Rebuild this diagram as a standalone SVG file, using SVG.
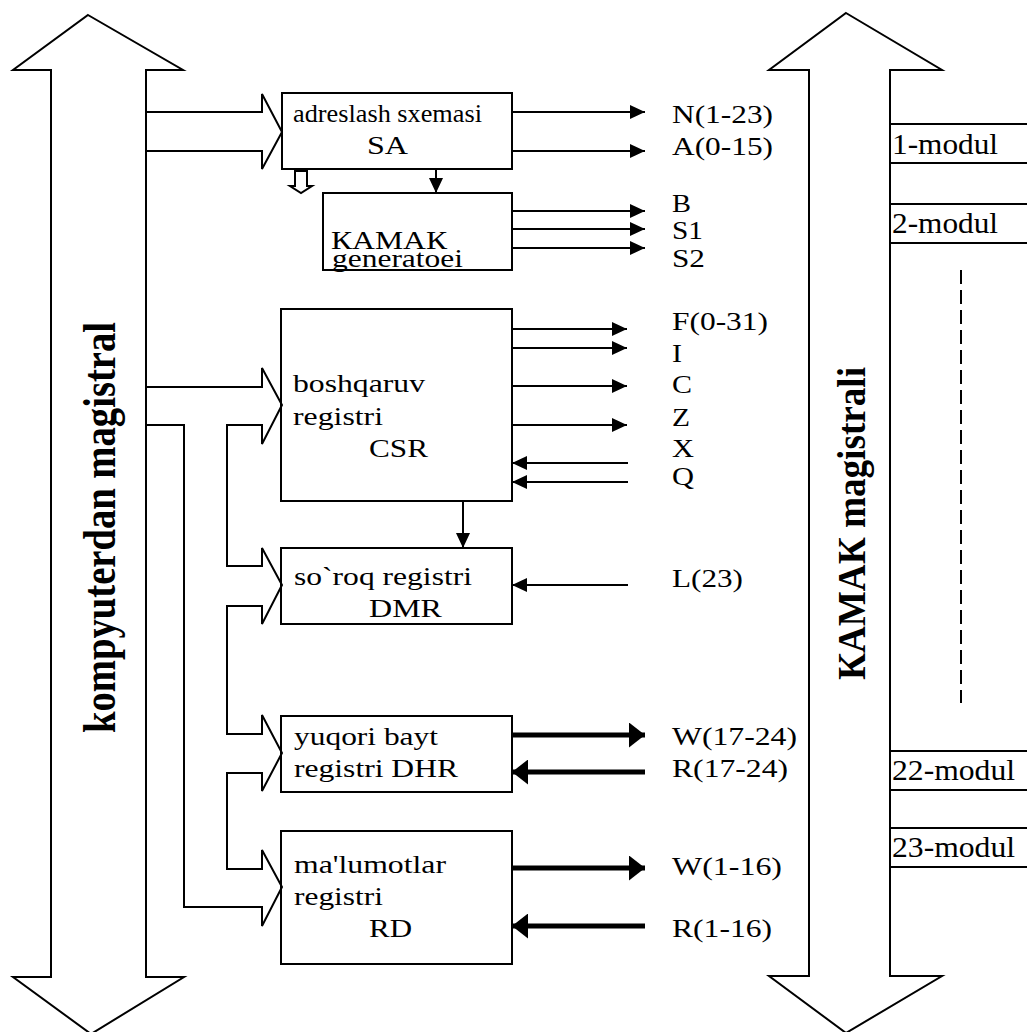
<svg xmlns="http://www.w3.org/2000/svg" width="1027" height="1032" viewBox="0 0 1027 1032">
<style>
.ln{fill:none;stroke:#000;stroke-width:2;stroke-linejoin:miter}
.bx{fill:#fff;stroke:#000;stroke-width:2}
.th{fill:none;stroke:#000;stroke-width:5}
.t{font-family:'Liberation Serif','Times New Roman',Times,serif;font-size:25.5px;fill:#000}
.b{font-family:'Liberation Serif','Times New Roman',Times,serif;font-size:26px;fill:#000}
.m{font-family:'Liberation Serif','Times New Roman',Times,serif;font-size:30px;fill:#000}
.bt{font-family:'Liberation Serif','Times New Roman',Times,serif;font-weight:bold;fill:#000;text-anchor:middle}
</style>
<defs>
<marker id="ah" markerUnits="userSpaceOnUse" markerWidth="15" markerHeight="14" refX="15" refY="7" orient="auto" viewBox="0 0 15 14"><path d="M0,0 L15,7 L0,14 z" fill="#000"/></marker>
<marker id="ahb" markerUnits="userSpaceOnUse" markerWidth="16" markerHeight="25" refX="16" refY="12.5" orient="auto" viewBox="0 0 16 25"><path d="M0,0 L16,12.5 L0,25 z" fill="#000"/></marker>
</defs>
<rect width="1027" height="1032" fill="#fff"/>

<g id="left-bus">
<polygon class="bx" points="88,15 183,70 146,70 146,977 184,977 91,1034 13,977 51,977 51,70 13,70"/>
<text class="bt" font-size="46" textLength="411" lengthAdjust="spacingAndGlyphs" transform="translate(115,527.5) rotate(-90)">kompyuterdan magistral</text>
</g>

<g id="right-bus">
<polygon class="bx" points="846,13 942,70 890,70 890,976 942,976 846,1033 769,976 809,976 809,70 769,70"/>
<text class="bt" font-size="40" textLength="313" lengthAdjust="spacingAndGlyphs" transform="translate(865,523.5) rotate(-90)">КАМАК magistrali</text>
</g>

<g id="modules">
<path class="ln" d="M890,124H1027M890,163H1027M890,204H1027M890,243H1027M890,751H1027M890,790H1027M890,828H1027M890,867H1027"/>
<path class="ln" d="M961,270V703" stroke-dasharray="14,6"/>
<text class="m" x="892" y="154" textLength="106" lengthAdjust="spacingAndGlyphs">1-modul</text>
<text class="m" x="892" y="233" textLength="106" lengthAdjust="spacingAndGlyphs">2-modul</text>
<text class="m" x="892" y="780" textLength="123" lengthAdjust="spacingAndGlyphs">22-modul</text>
<text class="m" x="892" y="857" textLength="123" lengthAdjust="spacingAndGlyphs">23-modul</text>
</g>

<g id="SA">
<rect class="bx" x="282" y="93" width="230" height="76"/>
<text class="b" x="293" y="122" textLength="189" lengthAdjust="spacingAndGlyphs">adreslash sxemasi</text>
<text class="b" x="367" y="154" textLength="41" lengthAdjust="spacingAndGlyphs">SA</text>
</g>

<g id="generator">
<rect class="bx" x="323" y="193" width="189" height="77"/>
<text class="b" x="331" y="249" textLength="116" lengthAdjust="spacingAndGlyphs">КАМАК</text>
<text class="b" x="332" y="267" textLength="131" lengthAdjust="spacingAndGlyphs">generatoei</text>
</g>

<g id="CSR">
<rect class="bx" x="281" y="309" width="231" height="192"/>
<text class="b" x="293" y="392" textLength="132" lengthAdjust="spacingAndGlyphs">boshqaruv</text>
<text class="b" x="293" y="425" textLength="90" lengthAdjust="spacingAndGlyphs">registri</text>
<text class="b" x="369" y="457" textLength="59" lengthAdjust="spacingAndGlyphs">CSR</text>
</g>

<g id="DMR">
<rect class="bx" x="281" y="548" width="231" height="76"/>
<text class="b" x="294" y="585" textLength="178" lengthAdjust="spacingAndGlyphs">so`roq registri</text>
<text class="b" x="369" y="617" textLength="73" lengthAdjust="spacingAndGlyphs">DMR</text>
</g>

<g id="DHR">
<rect class="bx" x="281" y="716" width="231" height="76"/>
<text class="b" x="294" y="745" textLength="144" lengthAdjust="spacingAndGlyphs">yuqori bayt</text>
<text class="b" x="294" y="777" textLength="164" lengthAdjust="spacingAndGlyphs">registri DHR</text>
</g>

<g id="RD">
<rect class="bx" x="281" y="831" width="231" height="133"/>
<text class="b" x="294" y="873" textLength="152" lengthAdjust="spacingAndGlyphs">ma'lumotlar</text>
<text class="b" x="294" y="905" textLength="89" lengthAdjust="spacingAndGlyphs">registri</text>
<text class="b" x="369" y="937" textLength="43" lengthAdjust="spacingAndGlyphs">RD</text>
</g>

<g id="signals">
<text class="t" x="672" y="123" textLength="101" lengthAdjust="spacingAndGlyphs">N(1-23)</text>
<text class="t" x="672" y="155" textLength="101" lengthAdjust="spacingAndGlyphs">A(0-15)</text>
<text class="t" x="672" y="212" textLength="19" lengthAdjust="spacingAndGlyphs">B</text>
<text class="t" x="672" y="239" textLength="31" lengthAdjust="spacingAndGlyphs">S1</text>
<text class="t" x="672" y="267" textLength="33" lengthAdjust="spacingAndGlyphs">S2</text>
<text class="t" x="672" y="330" textLength="96" lengthAdjust="spacingAndGlyphs">F(0-31)</text>
<text class="t" x="672" y="362" textLength="10" lengthAdjust="spacingAndGlyphs">I</text>
<text class="t" x="672" y="393" textLength="20" lengthAdjust="spacingAndGlyphs">C</text>
<text class="t" x="672" y="426" textLength="18" lengthAdjust="spacingAndGlyphs">Z</text>
<text class="t" x="672" y="457" textLength="22" lengthAdjust="spacingAndGlyphs">X</text>
<text class="t" x="672" y="485" textLength="22" lengthAdjust="spacingAndGlyphs">Q</text>
<text class="t" x="672" y="587" textLength="71" lengthAdjust="spacingAndGlyphs">L(23)</text>
<text class="t" x="672" y="745" textLength="125" lengthAdjust="spacingAndGlyphs">W(17-24)</text>
<text class="t" x="672" y="777" textLength="116" lengthAdjust="spacingAndGlyphs">R(17-24)</text>
<text class="t" x="672" y="875" textLength="110" lengthAdjust="spacingAndGlyphs">W(1-16)</text>
<text class="t" x="672" y="937" textLength="100" lengthAdjust="spacingAndGlyphs">R(1-16)</text>
</g>

<g id="connectors">
<polyline class="ln" points="146,112 262,112 262,94 282,132 262,169 262,151 146,151"/>
<polyline class="ln" points="146,387 262,387 262,368 282,405 262,444 262,425 227,425 227,566 262,566 262,548 282,585 262,624 262,606 227,606 227,734 262,734 262,715 282,753 262,791 262,773 227,773 227,869 262,869 262,850 282,887 262,926 262,907 184,907 184,425 146,425"/>
<polygon class="ln" stroke-width="1.5" points="295,171 295,186 290,186 301,193 312,186 307,186 307,171"/>
<line class="ln" x1="512" y1="112" x2="645" y2="112" marker-end="url(#ah)"/>
<line class="ln" x1="512" y1="151" x2="645" y2="151" marker-end="url(#ah)"/>
<line class="ln" x1="436" y1="169" x2="436" y2="193" marker-end="url(#ah)"/>
<line class="ln" x1="512" y1="211" x2="645" y2="211" marker-end="url(#ah)"/>
<line class="ln" x1="512" y1="229" x2="645" y2="229" marker-end="url(#ah)"/>
<line class="ln" x1="512" y1="248" x2="645" y2="248" marker-end="url(#ah)"/>
<line class="ln" x1="512" y1="329" x2="627" y2="329" marker-end="url(#ah)"/>
<line class="ln" x1="512" y1="348" x2="627" y2="348" marker-end="url(#ah)"/>
<line class="ln" x1="512" y1="386" x2="627" y2="386" marker-end="url(#ah)"/>
<line class="ln" x1="512" y1="425" x2="627" y2="425" marker-end="url(#ah)"/>
<line class="ln" x1="628" y1="463" x2="512" y2="463" marker-end="url(#ah)"/>
<line class="ln" x1="628" y1="482" x2="512" y2="482" marker-end="url(#ah)"/>
<line class="ln" x1="463" y1="501" x2="463" y2="548" marker-end="url(#ah)"/>
<line class="ln" x1="628" y1="585" x2="512" y2="585" marker-end="url(#ah)"/>
<line class="th" x1="512" y1="735" x2="645" y2="735" marker-end="url(#ahb)"/>
<line class="th" x1="645" y1="772" x2="512" y2="772" marker-end="url(#ahb)"/>
<line class="th" x1="512" y1="868" x2="645" y2="868" marker-end="url(#ahb)"/>
<line class="th" x1="645" y1="926" x2="512" y2="926" marker-end="url(#ahb)"/>
</g>
</svg>
